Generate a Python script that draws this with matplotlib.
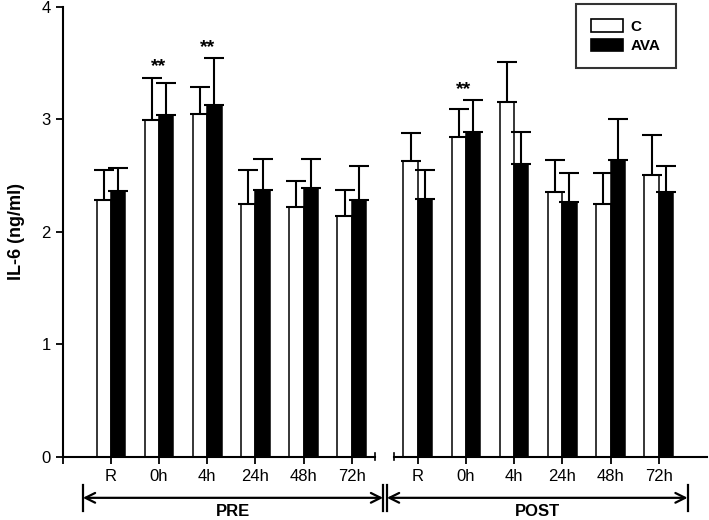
import matplotlib
matplotlib.use('Agg')
import matplotlib.pyplot as plt
import numpy as np
from matplotlib.patches import Patch

plt.rcParams['font.family'] = ['Liberation Sans', 'DejaVu Sans']

# data
times = ['R', '0h', '4h', '24h', '48h', '72h']
c_pre = [2.28, 2.99, 3.05, 2.25, 2.22, 2.14]
c_pre_err = [0.27, 0.38, 0.24, 0.30, 0.23, 0.23]
ava_pre = [2.36, 3.04, 3.13, 2.37, 2.39, 2.28]
ava_pre_err = [0.21, 0.28, 0.41, 0.28, 0.26, 0.30]
c_post = [2.63, 2.84, 3.15, 2.35, 2.25, 2.50]
c_post_err = [0.25, 0.25, 0.36, 0.29, 0.27, 0.36]
ava_post = [2.29, 2.89, 2.60, 2.26, 2.64, 2.35]
ava_post_err = [0.26, 0.28, 0.29, 0.26, 0.36, 0.23]
# groups marked with ** (index into pre / post)
sig_pre = [1, 2]
sig_post = [1]

pre_x = np.arange(1, 7)
post_x = np.arange(1, 7) + 6.37
w = 0.297

fig = plt.figure(figsize=(7.09, 5.2), dpi=100)
ax = fig.add_axes([0.0884, 0.122, 0.9086, 0.865])

def bars(x, vals, errs, color):
    ax.bar(x, vals, w, color=color, edgecolor='black', linewidth=1.1, zorder=2)
    ax.errorbar(x, vals, yerr=[np.zeros(len(vals)), errs], fmt='none',
                ecolor='black', elinewidth=1.5, capsize=7, capthick=1.5, zorder=3)

bars(pre_x - w / 2, c_pre, c_pre_err, 'white')
bars(pre_x + w / 2, ava_pre, ava_pre_err, 'black')
bars(post_x - w / 2, c_post, c_post_err, 'white')
bars(post_x + w / 2, ava_post, ava_post_err, 'black')

# significance stars above the taller error bar
for i in sig_pre:
    top = max(c_pre[i] + c_pre_err[i], ava_pre[i] + ava_pre_err[i])
    ax.text(pre_x[i], top + 0.02, '**', ha='center', va='bottom', fontsize=14,
            fontweight='bold')
for i in sig_post:
    top = max(c_post[i] + c_post_err[i], ava_post[i] + ava_post_err[i])
    ax.text(post_x[i] - 0.04, top + 0.02, '**', ha='center', va='bottom', fontsize=14,
            fontweight='bold')

xmax = 13.37
ax.set_xlim(0, xmax)
ax.set_ylim(0, 4)
for s in ['top', 'right', 'bottom']:
    ax.spines[s].set_visible(False)
ax.spines['left'].set_linewidth(1.5)
ax.set_yticks([0, 1, 2, 3, 4])
ax.tick_params(axis='y', direction='out', length=5, width=1.3, labelsize=12)

# broken x axis
lim1, lim2 = 6.48, 6.87
ax.plot([0, lim1], [0, 0], color='black', lw=1.5, clip_on=False, zorder=4)
ax.plot([lim2, xmax], [0, 0], color='black', lw=1.5, clip_on=False, zorder=4)
for xb in [lim1, lim2]:
    ax.plot([xb, xb], [-0.03, 0.03], color='black', lw=1.2, clip_on=False)
ax.set_xticks([0] + list(pre_x) + list(post_x))
ax.set_xticklabels([''] + times + times)
ax.tick_params(axis='x', direction='out', length=5, width=1.3, labelsize=12, pad=4)

# PRE / POST arrows
ya = -0.367
arr = dict(arrowstyle='<->,head_length=0.7,head_width=0.35', color='black', lw=1.6,
           shrinkA=0, shrinkB=0)
ax.annotate('', xy=(0.42, ya), xytext=(6.65, ya), arrowprops=arr, annotation_clip=False)
ax.annotate('', xy=(6.73, ya), xytext=(12.97, ya), arrowprops=arr, annotation_clip=False)
for xb in [0.42, 6.65, 6.73, 12.97]:
    ax.plot([xb, xb], [-0.25, -0.48], color='black', lw=1.6, clip_on=False)
ax.text((0.42 + 6.65) / 2, -0.49, 'PRE', ha='center', va='center', fontsize=12,
        fontweight='bold')
ax.text((6.73 + 12.97) / 2, -0.49, 'POST', ha='center', va='center', fontsize=12,
        fontweight='bold')

ax.set_ylabel('IL-6 (ng/ml)', fontsize=13, fontweight='bold', labelpad=12)

# legend
handles = [Patch(facecolor='white', edgecolor='black', linewidth=1.2),
           Patch(facecolor='black', edgecolor='black', linewidth=1.2)]
leg = ax.legend(handles, ['C', 'AVA'], loc='upper right', bbox_to_anchor=(0.952, 1.006),
                frameon=True, fancybox=False, edgecolor='black',
                prop={'weight': 'bold', 'size': 11}, handlelength=2.1,
                handleheight=0.9, borderpad=1.0, labelspacing=0.3, handletextpad=0.5,
                borderaxespad=0)
leg.get_frame().set_linewidth(1.5)

fig.savefig('out.png', dpi=100)
